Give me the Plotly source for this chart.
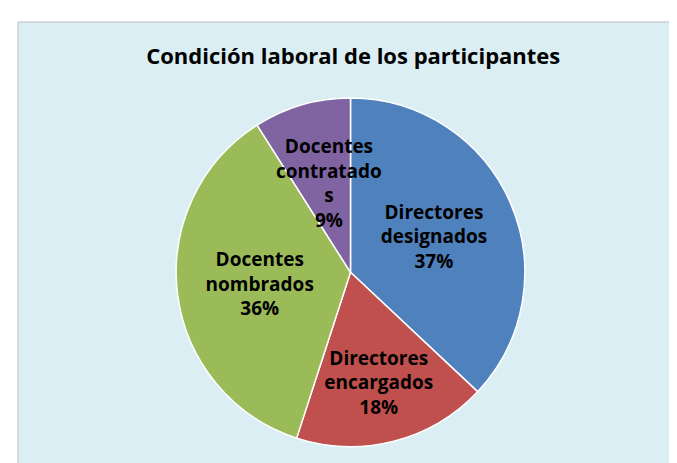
import plotly.graph_objects as go

categories = ["Directores<br>designados", "Directores<br>encargados", "Docentes<br>nombrados", "Docentes<br>contratados"]
values = [37, 18, 36, 9]
colors = ["#4F81BD", "#C0504D", "#9BBB59", "#8064A2"]
title_text = "Condición laboral de los participantes"
small_label = "Docentes<br>contratado<br>s<br>9%"

font_family = "Open Sans, Liberation Sans, sans-serif"
templates = ["%{label}<br>%{percent:.0%}"] * 3 + [""]

fig = go.Figure(go.Pie(
    labels=categories,
    values=values,
    sort=False,
    direction="clockwise",
    rotation=0,
    marker=dict(colors=colors, line=dict(color="white", width=1.5)),
    texttemplate=templates,
    textposition="inside",
    insidetextorientation="horizontal",
    textfont=dict(family=font_family, size=19, color="black", weight="bold"),
    showlegend=False,
    hoverinfo="label+percent",
    domain=dict(x=[0, 1], y=[0.05, 0.83]),
))

fig.add_annotation(text=small_label, xref="paper", yref="paper", x=0.468, y=0.64,
                   showarrow=False, font=dict(family=font_family, size=19, color="black", weight="bold"))

fig.update_layout(
    width=677, height=463,
    paper_bgcolor="white",
    margin=dict(l=10, r=2, t=14, b=2),
    uniformtext=dict(minsize=19, mode="show"),
    title=dict(text=title_text, x=0.51, xanchor="center", y=0.895, yanchor="middle",
               font=dict(family=font_family, size=22, color="black", weight="bold")),
    shapes=[dict(type="rect", xref="paper", yref="paper", x0=0, x1=1, y0=0, y1=1,
                 fillcolor="#DAEEF3", line=dict(color="#BFBFBF", width=1), layer="below")],
)

fig.write_html("out.html")
